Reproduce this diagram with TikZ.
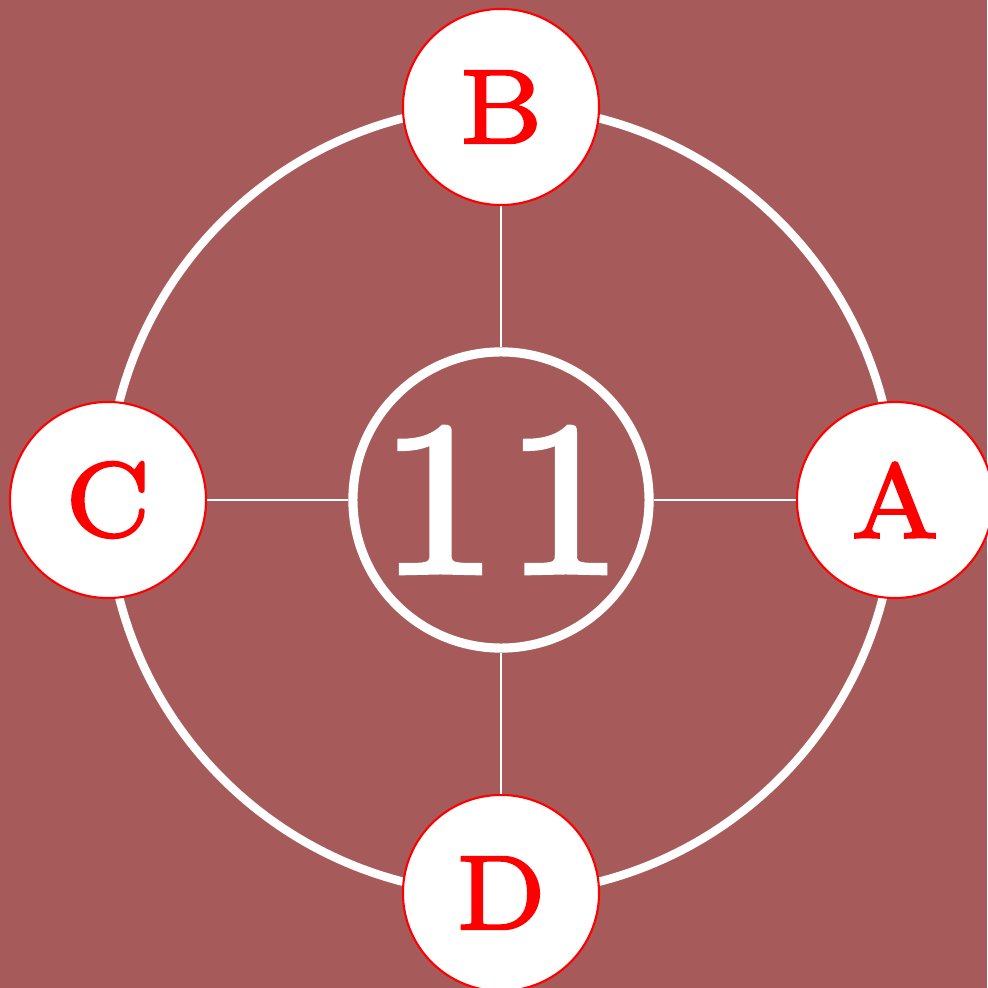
\documentclass[tikz,border=0pt]{standalone}
\usepackage{fontspec}
\usepackage{tikz}
\usetikzlibrary{positioning,calc}
\definecolor{bgred}{HTML}{A65B5A}
% small design size, thickened and blown up
\newfontfamily\ringfont{lmroman7-regular.otf}[FakeBold=2]
\newcommand{\blowup}[2]{\scalebox{#1}{\fontsize{7}{8}\ringfont #2}}

\begin{document}
\begin{tikzpicture}[x=0.01cm,y=0.01cm,
  letter/.style={circle,draw=red,line width=0.6pt,fill=white,text=red,
    minimum size=1.96cm,inner sep=0pt},
  hub/.style={circle,draw=white,line width=2.6pt,minimum size=2.96cm,
    inner sep=0pt,text=white},
  spoke/.style={white,line width=0.6pt}]
% background and bounding box
\fill[bgred] (-501,-488) rectangle (486,500);
\useasboundingbox (-501,-488) rectangle (486,500);
% outer ring
\draw[white,line width=2.4pt] (0,0) circle (394);
% centre
\node[hub] (hub) at (0,0) {\blowup{8.95}{11}};
% letters on the ring
\node[letter] (A) at (394,0) {\blowup{4.3}{A}};
\node[letter] (B) at (0,393) {\blowup{4.3}{B}};
\node[letter] (C) at (-393,0) {\blowup{4.3}{C}};
\node[letter] (D) at (0,-393) {\blowup{4.3}{D}};
% spokes
\draw[spoke] (hub) -- (A);
\draw[spoke] (hub) -- (B);
\draw[spoke] (hub) -- (C);
\draw[spoke] (hub) -- (D);
\end{tikzpicture}
\end{document}
